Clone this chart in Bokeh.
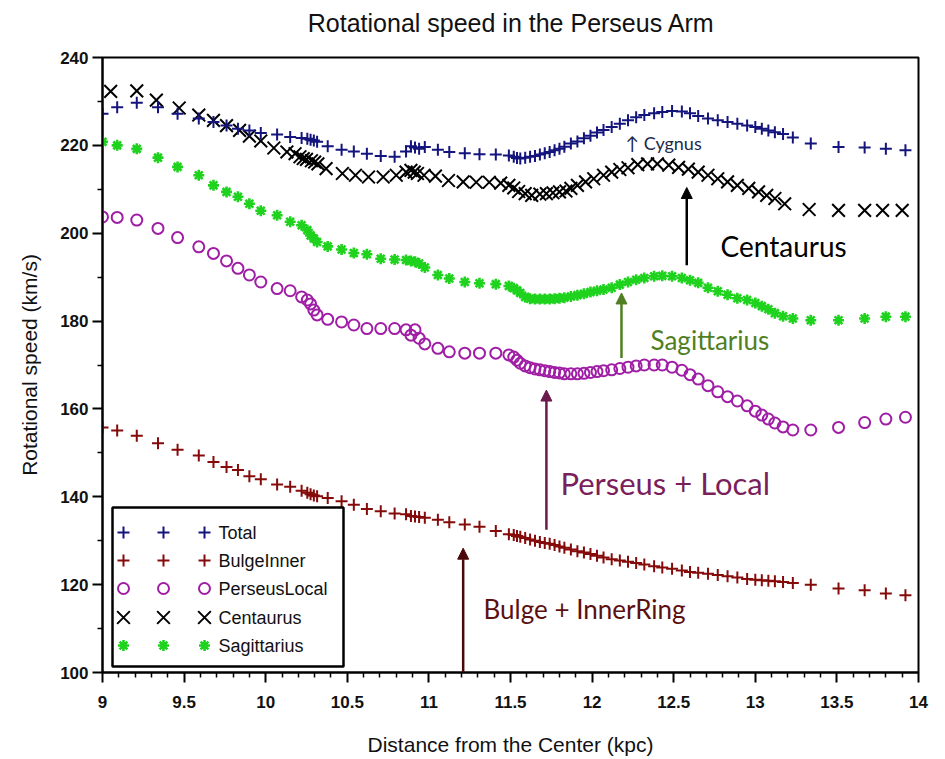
import numpy as np
from bokeh.plotting import figure
from bokeh.layouts import column
from bokeh.models import Range1d, FixedTicker, Label, Arrow, NormalHead
from bokeh.embed import file_html
from bokeh.resources import INLINE

# ---------------- data ----------------
R_KPC = [9.00, 9.09, 9.21, 9.34, 9.46, 9.59, 9.68, 9.76, 9.83, 9.90,
         9.97, 10.07, 10.15, 10.22, 10.255, 10.275, 10.295, 10.315, 10.38, 10.465,
         10.54, 10.62, 10.705, 10.79, 10.86, 10.89, 10.915, 10.94, 10.975, 11.055,
         11.125, 11.22, 11.31, 11.41, 11.49, 11.52, 11.54, 11.56, 11.59, 11.62,
         11.65, 11.68, 11.71, 11.74, 11.77, 11.80, 11.83, 11.87, 11.91, 11.95,
         11.99, 12.03, 12.07, 12.12, 12.17, 12.22, 12.27, 12.32, 12.38, 12.43,
         12.49, 12.55, 12.60, 12.65, 12.71, 12.77, 12.83, 12.89, 12.95, 13.00,
         13.04, 13.08, 13.12, 13.17, 13.23, 13.34, 13.51, 13.67, 13.80, 13.92]

TOTAL = [227.2, 228.7, 229.7, 228.7, 227.2, 226.1, 225.3, 224.5, 223.8, 223.4,
         222.8, 222.5, 221.9, 221.7, 221.5, 221.3, 221.1, 220.8, 219.8, 219.0,
         218.6, 218.1, 217.6, 217.4, 218.6, 219.8, 219.5, 219.2, 219.6, 219.0,
         218.5, 218.2, 218.0, 217.9, 217.7, 217.4, 217.1, 217.0, 217.2, 217.4,
         217.6, 217.9, 218.2, 218.5, 218.9, 219.2, 219.7, 220.4, 220.9, 221.6,
         222.2, 222.9, 223.5, 224.2, 224.9, 225.7, 226.4, 226.9, 227.3, 227.6,
         227.8, 227.7, 227.3, 226.7, 226.1, 225.7, 225.3, 224.9, 224.5, 224.2,
         223.8, 223.4, 223.0, 222.6, 221.8, 220.4, 219.6, 219.5, 219.2, 218.9]

BULGE_INNER = [155.8, 155.1, 153.9, 152.2, 150.7, 149.4, 147.9, 146.8, 146.1, 144.7,
               144.0, 142.8, 142.3, 141.4, 140.9, 140.6, 140.3, 140.1, 139.7, 139.0,
               138.2, 137.2, 136.7, 136.2, 136.0, 135.6, 135.5, 135.4, 135.2, 134.8,
               134.2, 133.7, 133.2, 132.2, 131.5, 131.3, 131.1, 130.9, 130.6, 130.3,
               130.0, 129.7, 129.5, 129.3, 129.0, 128.7, 128.4, 128.0, 127.6, 127.3,
               127.0, 126.6, 126.2, 125.8, 125.5, 125.2, 124.9, 124.6, 124.2, 123.9,
               123.6, 123.2, 122.9, 122.7, 122.5, 122.2, 121.9, 121.6, 121.3, 121.1,
               121.0, 120.9, 120.8, 120.6, 120.4, 120.0, 119.1, 118.7, 118.0, 117.6]

PERSEUS_LOCAL = [203.7, 203.6, 203.0, 201.1, 199.0, 196.9, 195.4, 193.7, 192.0, 190.5,
                 188.9, 187.4, 186.9, 185.5, 184.8, 183.9, 182.5, 181.4, 180.4, 179.8,
                 179.1, 178.3, 178.3, 178.3, 178.0, 176.8, 178.0, 176.1, 174.8, 173.8,
                 173.0, 172.7, 172.7, 172.7, 172.3, 171.8, 171.1, 170.4, 169.8, 169.4,
                 169.1, 168.9, 168.7, 168.5, 168.3, 168.2, 168.0, 168.0, 168.0, 168.1,
                 168.3, 168.5, 168.7, 168.9, 169.2, 169.5, 169.8, 170.0, 170.0, 170.0,
                 169.5, 168.8, 167.8, 166.8, 165.3, 163.9, 162.8, 161.8, 160.7, 159.5,
                 158.6, 157.7, 156.8, 155.9, 155.2, 155.2, 155.8, 156.9, 157.7, 158.1]

SAGITTARIUS = [220.8, 220.0, 219.2, 217.2, 215.1, 213.2, 210.9, 209.4, 208.3, 206.7,
               205.1, 204.1, 202.6, 201.8, 200.7, 199.5, 198.8, 198.0, 197.0, 196.3,
               195.5, 195.2, 194.2, 194.0, 193.9, 193.7, 193.5, 193.1, 192.2, 190.5,
               189.7, 188.9, 188.6, 188.4, 188.0, 187.5, 187.0, 186.4, 185.5, 185.1,
               185.0, 185.0, 185.0, 185.0, 185.1, 185.2, 185.3, 185.6, 185.9, 186.2,
               186.6, 186.9, 187.2, 187.6, 188.3, 188.9, 189.4, 189.8, 190.2, 190.3,
               190.2, 189.8, 189.3, 188.7, 187.6, 186.8, 186.0, 185.2, 184.8, 184.1,
               183.4, 182.7, 181.8, 181.1, 180.6, 180.2, 180.2, 180.6, 181.0, 181.0]

CENTAURUS_R = [9.05, 9.21, 9.33, 9.47, 9.59, 9.68, 9.76, 9.84, 9.90, 9.97,
               10.05, 10.13, 10.18, 10.21, 10.23, 10.25, 10.28, 10.30, 10.32, 10.37,
               10.47, 10.55, 10.63, 10.72, 10.80, 10.86, 10.89, 10.91, 10.93, 10.97,
               11.04, 11.12, 11.21, 11.29, 11.37, 11.44, 11.49, 11.52, 11.55, 11.59,
               11.63, 11.68, 11.72, 11.76, 11.80, 11.84, 11.87, 11.91, 11.96, 12.01,
               12.07, 12.12, 12.17, 12.22, 12.28, 12.34, 12.40, 12.47, 12.53, 12.59,
               12.65, 12.71, 12.77, 12.83, 12.89, 12.96, 13.02, 13.07, 13.12, 13.18,
               13.33, 13.51, 13.67, 13.78, 13.90]

CENTAURUS = [232.3, 232.4, 230.3, 228.5, 226.9, 225.7, 224.5, 223.4, 222.1, 221.0,
             219.4, 218.5, 218.1, 217.4, 217.0, 216.8, 216.5, 216.2, 215.8, 214.7,
             213.6, 213.2, 212.8, 212.8, 213.2, 213.9, 214.3, 213.9, 213.6, 213.2,
             213.0, 212.0, 211.7, 211.6, 211.6, 211.4, 210.9, 210.3, 209.5, 209.0,
             208.6, 208.9, 209.0, 209.2, 209.4, 209.6, 210.2, 210.9, 211.7, 212.4,
             213.2, 213.9, 214.5, 214.9, 215.6, 215.8, 215.8, 215.5, 215.0, 214.6,
             213.9, 213.2, 212.4, 211.7, 210.9, 210.2, 209.4, 208.6, 207.9, 206.7,
             205.4, 205.2, 205.2, 205.2, 205.2]

SERIES_NAMES = ["Total", "BulgeInner", "PerseusLocal", "Centaurus", "Sagittarius"]

X_TICKS = [9, 9.5, 10, 10.5, 11, 11.5, 12, 12.5, 13, 13.5, 14]
X_TICK_LABELS = ["9", "9.5", "10", "10.5", "11", "11.5", "12", "12.5", "13", "13.5", "14"]
Y_TICKS = [100, 120, 140, 160, 180, 200, 220, 240]
Y_TICK_LABELS = ["100", "120", "140", "160", "180", "200", "220", "240"]

TITLE = "Rotational speed in the Perseus Arm"

# annotations: text, x kpc, y km/s, colour, font size
ANNOT_TEXT = ["\u2191 Cygnus", "Centaurus", "Sagittarius", "Perseus + Local", "Bulge + InnerRing"]
ANNOT_X = [12.205, 12.787, 12.358, 11.806, 11.335]
ANNOT_Y = [220.65, 196.98, 175.58, 143.25, 114.35]
ANNOT_COLOR = ["#1b2b4b", "#000000", "#4f7f22", "#7a1f5c", "#5c1010"]
ANNOT_SIZE = ["18px", "28px", "26px", "31px", "26px"]

ARROW_X = [12.58, 12.18, 11.72, 11.21]
ARROW_Y0 = [192.7, 171.6, 132.5, 100.0]
ARROW_Y1 = [210.4, 186.4, 164.3, 128.3]
ARROW_COLOR = ["#000000", "#4f7f22", "#6b1a4c", "#4a0808"]

# ---------------- styling ----------------
STYLE = {
    "Total":        dict(marker="cross",    color="#14147d", size=12, lw=2.0),
    "BulgeInner":   dict(marker="cross",    color="#850a0a", size=12, lw=2.0),
    "PerseusLocal": dict(marker="circle",   color="#a01ea6", size=11, lw=2.0),
    "Centaurus":    dict(marker="x",        color="#000000", size=18, lw=2.0),
    "Sagittarius":  dict(marker="asterisk", color="#1ed21e", size=11, lw=2.6),
}
SERIES_X = {"Total": R_KPC, "BulgeInner": R_KPC, "PerseusLocal": R_KPC,
            "Centaurus": CENTAURUS_R, "Sagittarius": R_KPC}
SERIES_Y = {"Total": TOTAL, "BulgeInner": BULGE_INNER, "PerseusLocal": PERSEUS_LOCAL,
            "Centaurus": CENTAURUS, "Sagittarius": SAGITTARIUS}

ARIAL = "Liberation Sans"
CALIBRI = "Lato"

W, H_TOTAL = 940, 759
TITLE_H = 44
FRAME_L, FRAME_R, FRAME_T, FRAME_B = 102, 918, 57, 672   # page pixels
H = H_TOTAL - TITLE_H
TITLE_X = 471   # horizontal position of the title centre in the title strip

# ---- title strip (its own small svg figure) ----
tfig = figure(width=W, height=TITLE_H, x_range=Range1d(0, W), y_range=Range1d(0, TITLE_H),
              output_backend="svg", toolbar_location=None, x_axis_type=None, y_axis_type=None,
              min_border=0)
tfig.outline_line_color = None
tfig.xgrid.visible = False
tfig.ygrid.visible = False
tfig.add_layout(Label(x=TITLE_X, y=TITLE_H - 22, text=TITLE, text_font=ARIAL,
                      text_font_size="25px", text_align="center", text_baseline="middle",
                      text_color="#111111"))

# ---- main chart ----
p = figure(width=W, height=H, x_range=Range1d(9, 14), y_range=Range1d(100, 240),
           output_backend="svg", toolbar_location=None,
           min_border_left=FRAME_L, min_border_right=W - FRAME_R,
           min_border_top=FRAME_T - TITLE_H, min_border_bottom=H_TOTAL - FRAME_B)
p.background_fill_color = "white"
p.border_fill_color = "white"
p.outline_line_color = "black"
p.outline_line_width = 2
p.xgrid.visible = False
p.ygrid.visible = False


def px_x(px):
    return 9 + (px - FRAME_L) * 5.0 / (FRAME_R - FRAME_L)


def px_y(py):
    return 240 - (py - FRAME_T) * 140.0 / (FRAME_B - FRAME_T)


x_minor = [round(v, 1) for v in np.arange(9.0, 14.001, 0.1) if round(v, 1) not in X_TICKS]
y_minor = [v for v in range(110, 240, 20)]
p.xaxis.ticker = FixedTicker(ticks=X_TICKS, minor_ticks=x_minor)
p.yaxis.ticker = FixedTicker(ticks=Y_TICKS, minor_ticks=y_minor)
p.xaxis.major_label_overrides = dict(zip(X_TICKS, X_TICK_LABELS))
p.yaxis.major_label_overrides = dict(zip(Y_TICKS, Y_TICK_LABELS))

for ax in (p.xaxis, p.yaxis):
    ax.axis_line_width = 2
    ax.axis_line_color = "black"
    ax.major_tick_out = 10
    ax.major_tick_in = 0
    ax.minor_tick_out = 5
    ax.minor_tick_in = 0
    ax.major_tick_line_width = 2
    ax.minor_tick_line_width = 1.5
    ax.major_label_text_font = ARIAL
    ax.major_label_text_font_size = "17px"
    ax.major_label_text_font_style = "bold"
    ax.major_label_text_color = "#111111"
    ax.axis_label_text_font = ARIAL
    ax.axis_label_text_font_size = "21px"
    ax.axis_label_text_font_style = "normal"
    ax.axis_label_text_color = "#111111"

p.xaxis.axis_label = "Distance from the Center (kpc)"
p.yaxis.axis_label = "Rotational speed (km/s)"
p.xaxis.major_label_standoff = 13
p.xaxis.axis_label_standoff = 22
p.yaxis.major_label_standoff = 4
p.yaxis.axis_label_standoff = 16


def draw(name, xs, ys):
    s = STYLE[name]
    if s["marker"] == "circle":
        p.scatter(x=xs, y=ys, marker="circle", size=s["size"], fill_color=None,
                  line_color=s["color"], line_width=s["lw"])
    else:
        p.scatter(x=xs, y=ys, marker=s["marker"], size=s["size"],
                  line_color=s["color"], line_width=s["lw"])


for name in ["Sagittarius", "PerseusLocal", "BulgeInner", "Centaurus", "Total"]:
    draw(name, SERIES_X[name], SERIES_Y[name])

# annotations
for t, x, y, c, fs in zip(ANNOT_TEXT, ANNOT_X, ANNOT_Y, ANNOT_COLOR, ANNOT_SIZE):
    p.add_layout(Label(x=x, y=y, text=t, text_color=c, text_font=CALIBRI,
                       text_font_size=fs, text_baseline="middle", text_align="left"))
for x, y0, y1, c in zip(ARROW_X, ARROW_Y0, ARROW_Y1, ARROW_COLOR):
    p.add_layout(Arrow(end=NormalHead(size=11, fill_color=c, line_color=c, line_width=1),
                       x_start=x, y_start=y0, x_end=x, y_end=y1,
                       line_color=c, line_width=2.5))

# ---------------- legend (drawn by hand: three symbols per row) ----------------
LEG_BOX = (112, 507, 343, 666)
LEG_COLS = [123, 163, 204]
LEG_TEXT_X = 218
LEG_ROWS = [532, 560, 588, 617, 645]

p.quad(left=[px_x(LEG_BOX[0])], right=[px_x(LEG_BOX[2])],
       top=[px_y(LEG_BOX[1])], bottom=[px_y(LEG_BOX[3])],
       fill_color="white", line_color="black", line_width=2.5)
for name, row in zip(SERIES_NAMES, LEG_ROWS):
    draw(name, [px_x(c) for c in LEG_COLS], [px_y(row)] * 3)
    p.add_layout(Label(x=px_x(LEG_TEXT_X), y=px_y(row), text=name, text_font=ARIAL,
                       text_font_size="18px", text_baseline="middle", text_color="#111111"))

layout = column(tfig, p, spacing=0)
open("out.html", "w").write(file_html(layout, INLINE))
